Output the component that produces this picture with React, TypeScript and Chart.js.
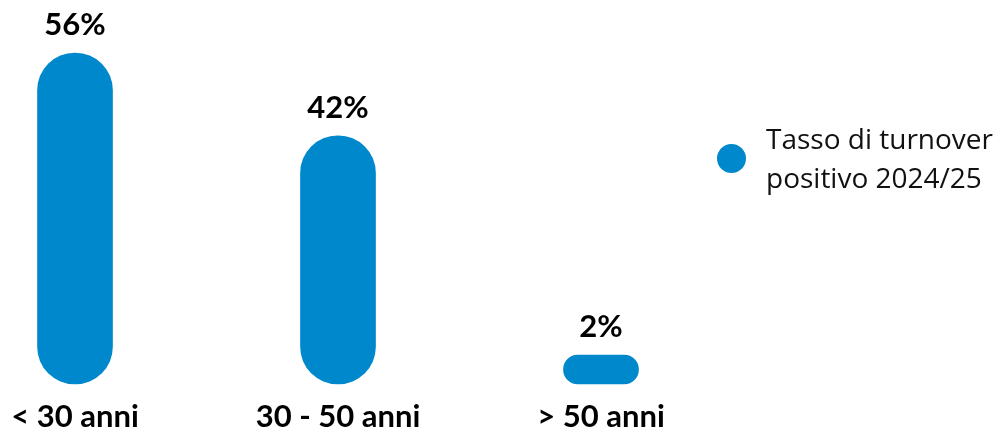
import React, { useEffect, useRef } from "react";
import { Chart, registerables } from "chart.js";

Chart.register(...registerables);

const categories = ["< 30 anni", "30 - 50 anni", "> 50 anni"];
const values = [56, 42, 2];
const seriesLabel = ["Tasso di turnover", "positivo 2024/25"];
const barColor = "#0088cc";
const FONT = "Lato, 'Noto Sans', sans-serif";
const LEGEND_FONT = "'Open Sans', 'Noto Sans', sans-serif";

const valueLabels = {
  id: "valueLabels",
  afterDatasetsDraw(chart: any) {
    const ctx = chart.ctx;
    const meta = chart.getDatasetMeta(0);
    ctx.save();
    ctx.font = `bold 31px ${FONT}`;
    ctx.fillStyle = "#000";
    ctx.textAlign = "center";
    ctx.textBaseline = "alphabetic";
    meta.data.forEach((bar: any, i: number) => {
      ctx.fillText(values[i] + "%", bar.x, bar.y - 18);
    });
    ctx.restore();
  },
};

export default function App() {
  const ref = useRef<HTMLCanvasElement>(null);
  useEffect(() => {
    const chart = new Chart(ref.current as HTMLCanvasElement, {
      type: "bar",
      data: {
        labels: categories,
        datasets: [
          {
            label: seriesLabel.join(" "),
            data: values,
            backgroundColor: barColor,
            barThickness: 75,
            borderRadius: 100,
            borderSkipped: false,
            minBarLength: 29,
            clip: false as any,
          },
        ],
      },
      options: {
        animation: false,
        responsive: false,
        maintainAspectRatio: false,
        layout: { padding: { left: 75, right: 398, top: 53, bottom: -18 } },
        plugins: { legend: { display: false }, tooltip: { enabled: false } },
        scales: {
          x: {
            offset: false,
            grid: { display: false, drawTicks: false },
            border: { display: false },
            ticks: {
              color: "#000",
              padding: 6,
              font: { family: FONT, size: 31, weight: "bold", lineHeight: 54 / 31 },
              maxRotation: 0,
            },
          },
          y: {
            display: false,
            min: 0,
            max: 56,
          },
        },
      },
      plugins: [valueLabels],
    });
    return () => chart.destroy();
  }, []);
  return (
    <div style={{ position: "fixed", left: 0, top: 0, width: 999, height: 432, background: "#fff" }}>
      <canvas ref={ref} width={999} height={432} style={{ width: 999, height: 432 }} />
      <div
        style={{
          position: "absolute",
          left: 717,
          top: 119,
          display: "flex",
          alignItems: "center",
          fontFamily: LEGEND_FONT,
          fontSize: 28,
          lineHeight: "39px",
          color: "#111",
        }}
      >
        <span
          style={{
            display: "inline-block",
            width: 29,
            height: 29,
            borderRadius: "50%",
            background: barColor,
            marginRight: 20,
            flex: "none",
          }}
        />
        <span style={{ whiteSpace: "nowrap" }}>
          {seriesLabel[0]}
          <br />
          {seriesLabel[1]}
        </span>
      </div>
    </div>
  );
}
